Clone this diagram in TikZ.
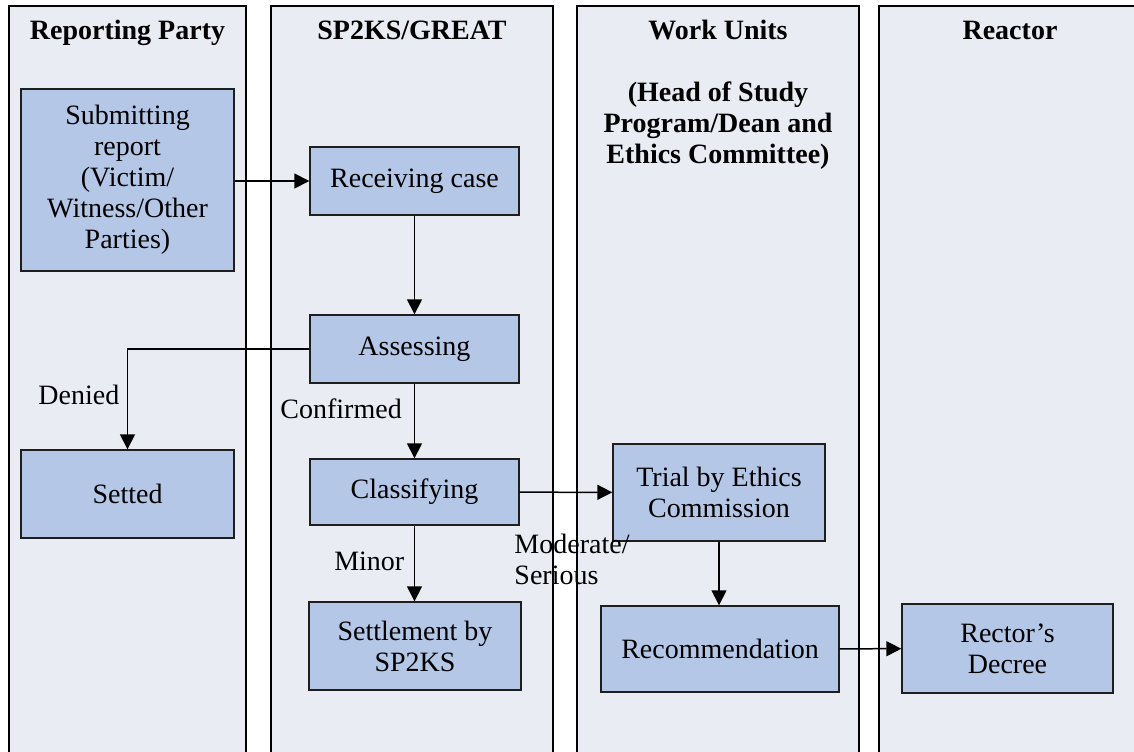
\documentclass[tikz,border=0pt]{standalone}
\usepackage{fontspec}
\setmainfont{Liberation Serif}
\usepackage{xcolor}
\definecolor{lanebg}{HTML}{E9ECF2}
\definecolor{stepfill}{HTML}{B4C7E7}
\definecolor{edgegray}{HTML}{1E1E1E}
\usepackage{tikz}
\usetikzlibrary{arrows.meta, positioning}

\begin{document}
\begin{tikzpicture}[
      %% One unit = half a point, y grows downwards
      x=0.5pt, y=-0.5pt,
      %% Swimlane columns
      lane/.style={draw=black, fill=lanebg, line width=0.8pt},
      %% Column headings
      head/.style={font=\fontsize{14}{15.5}\selectfont\bfseries,
                   align=center, inner sep=0pt},
      %% Process boxes
      box/.style={rectangle, draw=edgegray, fill=stepfill, line width=0.7pt,
                  align=center, font=\fontsize{14}{15.5}\selectfont, inner sep=2pt},
      arr/.style={-{Triangle[length=7.5pt, width=7.5pt]}, line width=0.75pt},
      lbl/.style={font=\fontsize{14}{15.5}\selectfont, inner sep=1pt, align=left},
    ]
    \useasboundingbox (0,0) rectangle (1134,751);
    \clip (0,0) rectangle (1134,751);
    \fill[white] (0,0) rectangle (1134,751);

    %% ── Lanes ───────────────────────────────────────────────────────────────
    \path[lane] (9,6)   rectangle (246,770);
    \path[lane] (271,6) rectangle (553,770);
    \path[lane] (577,6) rectangle (859,770);
    \path[lane] (879,6) rectangle (1150,770);

    \node[head, anchor=base]  (hdrep)  at (127.5,39) {Reporting Party};
    \node[head, anchor=base]  (hdsp)   at (412,39)   {SP2KS/GREAT};
    \node[head, anchor=base]  (hdwork) at (718,39)   {Work Units};
    \node[head, anchor=north] (hdsub)  at (718,81)
      {(Head of Study\\Program/Dean and\\Ethics Committee)};
    \node[head, anchor=base]  (hdrect) at (1010,39)  {Reactor};

    %% ── Boxes ───────────────────────────────────────────────────────────────
    \node[box, minimum width=106.5pt, minimum height=91pt] (sub) at (127.5,180)
      {Submitting\\report\\(Victim/\\Witness/Other\\Parties)};
    \node[box, minimum width=104.5pt, minimum height=34pt] (recv) at (414.5,181)
      {Receiving case};
    \node[box, minimum width=104.5pt, minimum height=34pt] (assess) at (414.5,349)
      {Assessing};
    \node[box, minimum width=106.5pt, minimum height=44pt] (setted) at (127.5,494)
      {Setted};
    \node[box, minimum width=104.5pt, minimum height=33pt] (classify) at (414.5,492)
      {Classifying};
    \node[box, minimum width=106pt, minimum height=44pt] (settle) at (415,646)
      {Settlement by\\SP2KS};
    \node[box, minimum width=106pt, minimum height=48.5pt] (trial) at (719,492.5)
      {Trial by Ethics\\Commission};
    \node[box, minimum width=119pt, minimum height=43pt] (recom) at (720,649)
      {Recommendation};
    \node[box, minimum width=105.5pt, minimum height=44.5pt] (rector) at (1007.5,648.5)
      {Rector’s\\Decree};

    %% ── Arrows ──────────────────────────────────────────────────────────────
    \draw[arr] (recv.west -| sub.east) -- (recv.west);
    \draw[arr] (recv) -- (assess);

    %% rejected reports go back to the reporting party
    \draw[arr] (assess.west) -| node[lbl, pos=0.73, left=2.75pt] {Denied}
      (setted.north);
    \draw[arr] (assess) -- node[lbl, pos=0.33, left=5pt] {Confirmed} (classify);

    \draw[arr] (classify) -- node[lbl, pos=0, anchor=north west,
      xshift=-4pt, yshift=-19.5pt] {Moderate/\\Serious} (trial);
    \draw[arr] (classify.south) -- node[lbl, pos=0.47, left=3.75pt] {Minor}
      (classify.south |- settle.north);

    \draw[arr] (trial.south) -- (trial.south |- recom.north);
    \draw[arr] (recom) -- (rector);
  \end{tikzpicture}
\end{document}
